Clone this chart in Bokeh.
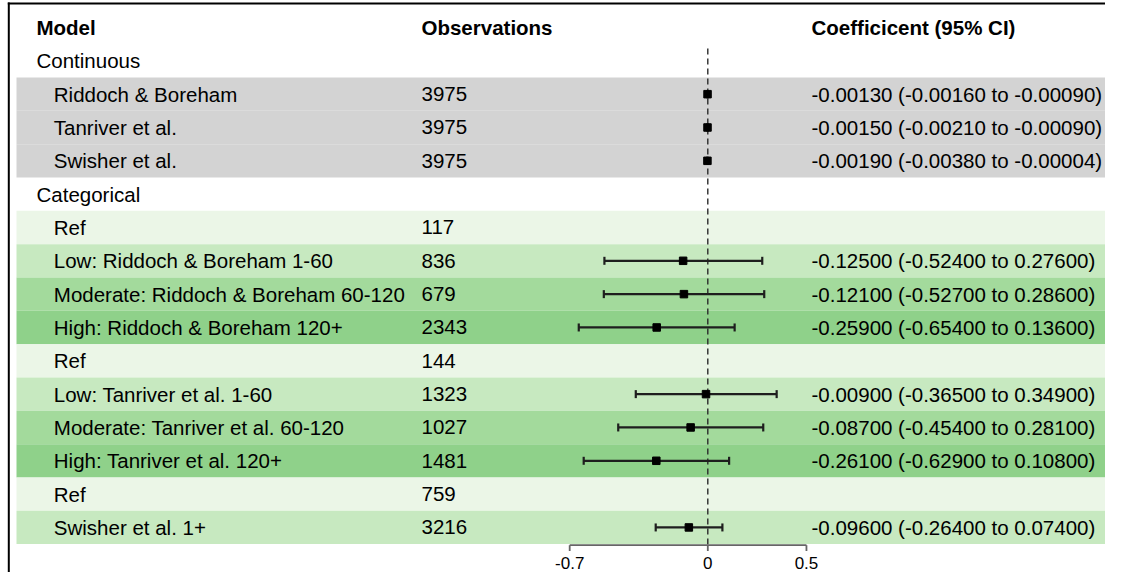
import math
from bokeh.plotting import figure
from bokeh.models import ColumnDataSource, Range1d
from bokeh.core.properties import value
from bokeh.embed import file_html
from bokeh.resources import INLINE

# ---------------- data ----------------
header_labels = ["Model", "Observations", "Coefficicent (95% CI)"]
section_labels = ["Continuous", "Categorical"]
row_labels = [
    "Continuous",
    "Riddoch & Boreham",
    "Tanriver et al.",
    "Swisher et al.",
    "Categorical",
    "Ref",
    "Low: Riddoch & Boreham 1-60",
    "Moderate: Riddoch & Boreham 60-120",
    "High: Riddoch & Boreham 120+",
    "Ref",
    "Low: Tanriver et al. 1-60",
    "Moderate: Tanriver et al. 60-120",
    "High: Tanriver et al. 120+",
    "Ref",
    "Swisher et al. 1+",
]
observations = [None, 3975, 3975, 3975, None, 117, 836, 679, 2343, 144, 1323, 1027, 1481, 759, 3216]
NA = float("nan")
coef = [NA, -0.0013, -0.0015, -0.0019, NA, NA, -0.125, -0.121, -0.259, NA, -0.009, -0.087, -0.261, NA, -0.096]
ci_low = [NA, -0.0016, -0.0021, -0.0038, NA, NA, -0.524, -0.527, -0.654, NA, -0.365, -0.454, -0.629, NA, -0.264]
ci_high = [NA, -0.0009, -0.0009, -0.00004, NA, NA, 0.276, 0.286, 0.136, NA, 0.349, 0.281, 0.108, NA, 0.074]
row_group = ["", "cont", "cont", "cont", "", "ref", "low", "moderate", "high",
             "ref", "low", "moderate", "high", "ref", "low"]
axis_ticks = [-0.7, 0, 0.5]
axis_tick_labels = ["-0.7", "0", "0.5"]

# ---------------- styles / layout ----------------
group_colors = {"cont": "#D3D3D3", "ref": "#EBF6E7", "low": "#C7E9C0",
                "moderate": "#A3DA9C", "high": "#8FD18A"}
FONT = value("Liberation Sans")
FS = value("20.5px")
W, H = 1105, 572
SHIFT = 3.0                               # whole table nudged up to leave room for tick labels
X0_PX, PX_PER_UNIT = 707.3, 197.3        # pixel of x=0, pixels per unit
ROW0_PX, ROW_PX = 30.0 - SHIFT, 33.33    # pixel of row 0 centre, row height


def sx(px):  # pixel x -> data x
    return (px - X0_PX) / PX_PER_UNIT


def sy(py):  # pixel y (reference frame) -> row coordinate
    return (py - SHIFT - ROW0_PX) / ROW_PX


p = figure(width=W, height=H, output_backend="svg", toolbar_location=None,
           x_axis_type=None, y_axis_type=None,
           x_range=Range1d(-X0_PX / PX_PER_UNIT, (W - X0_PX) / PX_PER_UNIT),
           y_range=Range1d((H - ROW0_PX) / ROW_PX, -ROW0_PX / ROW_PX),
           min_border=0, outline_line_color=None)
p.background_fill_color = "white"
p.border_fill_color = "white"

rows = list(range(1, len(row_labels) + 1))

# background bands
band_y, band_c = [], []
for r, g in zip(rows, row_group):
    if g:
        band_y.append(r)
        band_c.append(group_colors[g])
bsrc = ColumnDataSource(dict(top=[y - 0.5 for y in band_y],
                             bottom=[y + 0.5 for y in band_y],
                             color=band_c))
p.quad(left=sx(16), right=sx(1130), top="top", bottom="bottom",
       fill_color="color", line_color=None, source=bsrc)

# frame lines (left + top)
p.segment(x0=[sx(8.3), sx(7.3)], y0=[sy(5), sy(6)], x1=[sx(8.3), sx(1130)], y1=[sy(620), sy(6)],
          line_color="black", line_width=2)

# header
col_x = [sx(36), sx(421), sx(811)]
p.text(x=col_x, y=[0, 0, 0], text=header_labels, text_font=FONT, text_font_size=FS,
       text_font_style="bold", text_baseline="middle", text_align="left", text_color="black")

# model labels
lx = [sx(36) if lab in section_labels and obs is None else sx(53.3)
      for lab, obs in zip(row_labels, observations)]
p.text(x=lx, y=rows, text=row_labels, text_font=FONT, text_font_size=FS,
       text_baseline="middle", text_align="left", text_color="black")

# observations
oy = [r for r, o in zip(rows, observations) if o is not None]
ot = [str(o) for o in observations if o is not None]
p.text(x=[col_x[1]] * len(oy), y=oy, text=ot, text_font=FONT, text_font_size=FS,
       text_baseline="middle", text_align="left", text_color="black")

# coefficient text + forest marks
cy, ce, cl, ch, ctext = [], [], [], [], []
for r, e, l, h in zip(rows, coef, ci_low, ci_high):
    if not math.isnan(e):
        cy.append(r); ce.append(e); cl.append(l); ch.append(h)
        ctext.append(f"{e:.5f} ({l:.5f} to {h:.5f})")
p.text(x=[col_x[2]] * len(cy), y=cy, text=ctext, text_font=FONT, text_font_size=FS,
       text_baseline="middle", text_align="left", text_color="black")

# zero reference line
p.segment(x0=[0], x1=[0], y0=[sy(51)], y1=[sy(547.5)], line_color="#2a2a2a",
          line_width=1.4, line_dash="6 4")

csrc = ColumnDataSource(dict(y=cy, est=ce, lo=cl, hi=ch,
                             ytop=[y - 0.12 for y in cy], ybot=[y + 0.12 for y in cy]))
p.segment(x0="lo", x1="hi", y0="y", y1="y", line_color="#1e1e1e", line_width=2.2, source=csrc)
p.segment(x0="lo", x1="lo", y0="ytop", y1="ybot", line_color="#1e1e1e", line_width=2.2, source=csrc)
p.segment(x0="hi", x1="hi", y0="ytop", y1="ybot", line_color="#1e1e1e", line_width=2.2, source=csrc)
p.scatter(x="est", y="y", marker="square", size=7.5, fill_color="black",
          line_color="black", source=csrc)

# x axis (drawn through the x scale)
ay = sy(547.7)
p.segment(x0=[min(axis_ticks)], x1=[max(axis_ticks)], y0=[ay], y1=[ay],
          line_color="#666666", line_width=1.8)
p.segment(x0=axis_ticks, x1=axis_ticks, y0=[ay] * 3, y1=[sy(553.5)] * 3,
          line_color="#666666", line_width=1.8)
p.text(x=axis_ticks, y=[(562.5 - ROW0_PX) / ROW_PX] * 3, text=axis_tick_labels, text_font=FONT,
       text_font_size=value("17px"), text_baseline="alphabetic", text_align="center",
       text_color="black")

open("out.html", "w").write(file_html(p, INLINE))
